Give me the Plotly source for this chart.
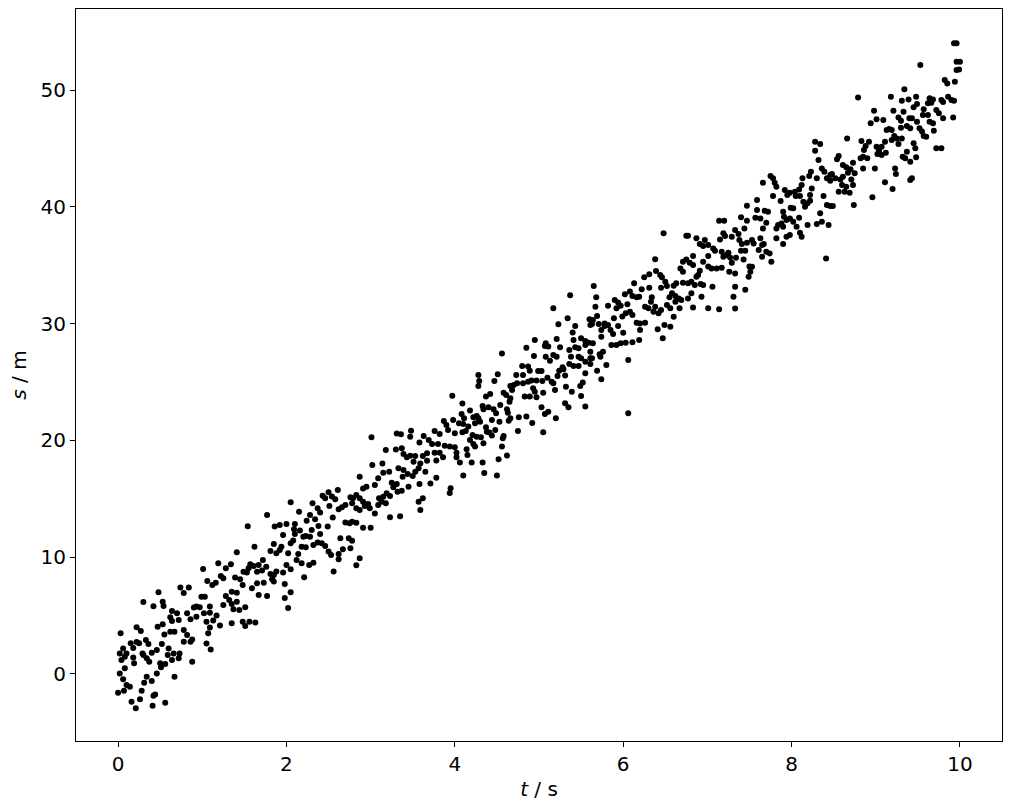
import plotly.graph_objects as go

# Points, grouped in strips along t (t in s, s in m)
strip1 = [(0.48,6.99),(0.74,7.41),(0.84,7.41),(0.78,6.93),(0.30,6.16),(0.42,5.79),(0.53,6.19),(0.54,5.82),(0.64,5.39),(0.70,5.19),(0.82,5.19),(0.90,5.70),(0.62,4.85),(0.72,4.62),(0.86,4.68),(0.22,3.99),(0.27,3.68),(0.47,4.05),(0.53,4.25),(0.64,4.53),(0.03,3.48),(0.15,2.62),(0.22,2.73),(0.33,2.91),(0.36,2.56),(0.55,3.39),(0.62,3.62),(0.67,3.62),(0.78,3.76),(0.82,3.33),(0.88,2.96),(0.06,2.19),(0.10,1.76),(0.02,1.76),(0.18,2.22),(0.25,2.62),(0.29,1.76),(0.34,1.34),(0.40,1.82),(0.46,2.05),(0.52,2.56),(0.60,2.19),(0.59,1.62),(0.66,1.76),(0.73,1.76),(0.78,2.76),(0.86,2.76),(0.04,1.19),(0.08,1.48),(0.18,1.42),(0.19,0.91),(0.30,1.62),(0.37,1.05),(0.50,0.91),(0.51,0.57),(0.56,0.85),(0.64,1.19),(0.72,1.34),(0.88,1.05),(0.02,0.05),(0.08,0.48),(0.06,-0.46),(0.34,-0.23),(0.40,-0.60),(0.31,-0.75),(0.46,0.05),(0.67,-0.23),(0.10,-0.95),(0.14,-1.09),(0.00,-1.60),(0.07,-1.43),(0.28,-1.43),(0.44,-1.75),(0.42,-1.86),(0.16,-2.37),(0.26,-2.17),(0.21,-2.94),(0.41,-2.72),(0.56,-2.46)]
strip2 = [(1.77,13.61),(1.54,12.64),(1.62,10.90),(1.41,10.42),(1.81,10.53),(1.01,8.99),(1.19,9.48),(1.28,9.05),(1.34,9.39),(1.57,9.39),(1.55,9.05),(1.61,9.25),(1.67,9.33),(1.72,9.76),(1.76,9.19),(1.06,7.96),(1.12,7.62),(1.16,7.82),(1.22,8.39),(1.25,8.19),(1.39,8.25),(1.45,8.11),(1.49,8.76),(1.53,8.68),(1.65,8.76),(1.71,8.85),(1.81,8.56),(1.48,7.62),(1.59,7.34),(1.65,7.76),(1.73,7.82),(1.67,6.76),(1.77,6.68),(0.99,6.62),(1.03,6.62),(1.28,6.68),(1.35,7.05),(1.41,6.96),(1.32,6.33),(1.25,5.91),(1.35,6.00),(1.41,6.19),(1.37,5.54),(1.44,5.48),(1.51,5.71),(0.93,5.77),(0.97,5.71),(1.09,5.77),(1.02,5.20),(1.09,5.25),(1.17,5.00),(0.93,4.91),(1.05,4.48),(1.13,4.57),(1.09,3.97),(1.21,4.14),(1.35,4.34),(1.48,4.48),(1.51,4.11),(1.56,4.48),(1.63,4.40),(1.07,3.48),(1.10,2.10),(1.05,2.60)]
strip3 = [(2.61,15.76),(2.50,15.56),(2.54,15.19),(2.43,15.25),(2.46,15.04),(2.58,14.96),(2.76,15.13),(2.05,14.70),(2.31,14.62),(2.37,14.19),(2.40,13.82),(2.51,14.39),(2.62,14.10),(2.66,14.27),(2.70,14.47),(2.15,13.90),(2.28,13.62),(2.34,13.25),(2.24,13.13),(2.55,13.39),(2.70,12.96),(2.75,12.90),(1.86,12.62),(1.92,12.76),(2.00,12.85),(2.10,12.85),(2.09,12.39),(2.16,12.28),(2.10,11.99),(2.20,11.76),(2.23,11.82),(2.28,11.76),(2.38,12.68),(2.40,11.99),(2.30,12.33),(1.96,11.90),(2.49,12.62),(2.64,11.62),(2.74,11.62),(2.05,11.19),(2.08,11.42),(2.18,10.90),(2.23,10.85),(2.32,11.05),(2.37,11.25),(2.42,11.19),(2.46,10.96),(1.85,11.13),(1.94,10.90),(1.88,10.33),(1.92,10.62),(2.02,10.33),(2.14,10.28),(2.50,10.48),(2.53,10.19),(2.62,10.28),(2.67,10.68),(2.76,10.76),(2.62,9.82),(2.12,9.76),(2.18,9.48),(2.27,9.33),(2.32,9.53),(2.00,9.33),(2.05,8.96),(1.96,8.68),(1.88,8.77),(1.85,8.48),(1.83,8.11),(2.56,8.77),(2.21,8.28),(1.98,7.71),(1.85,7.91),(2.02,5.65),(1.98,6.50),(2.05,7.00)]
strip4 = [(3.48,20.83),(3.31,20.60),(3.36,20.52),(3.47,20.32),(3.01,20.26),(3.63,20.37),(3.58,19.83),(3.69,20.03),(3.37,19.32),(3.30,19.23),(3.18,19.18),(3.39,18.83),(3.43,18.55),(3.47,18.69),(3.53,18.66),(3.62,18.66),(3.67,18.89),(3.51,18.18),(3.59,18.03),(3.67,18.26),(3.02,17.89),(3.14,18.03),(3.15,17.24),(3.22,17.32),(3.33,17.61),(3.39,17.46),(3.44,17.12),(3.50,16.95),(3.53,17.32),(3.57,17.61),(3.65,17.32),(2.87,16.89),(2.95,16.04),(2.91,15.89),(3.05,16.18),(3.09,16.75),(3.25,16.38),(3.31,16.27),(3.38,16.89),(3.58,16.27),(3.71,16.32),(3.45,16.04),(3.27,15.98),(3.37,15.69),(3.19,15.47),(3.23,15.24),(3.15,15.18),(3.10,15.04),(3.13,14.75),(3.18,14.61),(3.09,14.47),(3.32,15.61),(2.83,15.32),(2.87,15.04),(2.91,14.75),(2.97,14.55),(2.99,14.18),(2.93,14.38),(2.79,15.04),(2.78,14.61),(2.83,14.18),(2.87,14.04),(3.05,13.75),(3.62,15.04),(3.57,14.75),(3.59,14.04),(3.23,13.41),(2.78,13.04),(2.83,12.95),(2.91,12.53),(3.00,12.53),(2.83,9.30),(2.87,9.90),(2.78,11.40),(3.35,13.50)]
strip5 = [(4.56,27.45),(4.28,25.60),(4.51,25.66),(4.29,25.09),(4.28,24.66),(4.47,25.09),(4.66,24.66),(3.97,23.83),(4.37,23.75),(4.42,23.97),(4.58,24.09),(4.61,23.89),(4.66,23.60),(4.65,23.32),(4.09,23.17),(4.33,22.95),(4.34,22.66),(4.40,22.83),(4.46,22.66),(4.54,23.03),(4.62,22.66),(4.63,22.37),(4.18,22.55),(4.08,22.26),(4.11,21.89),(4.22,21.98),(4.26,22.09),(4.30,21.60),(4.28,21.89),(4.49,22.32),(4.44,21.75),(4.53,21.60),(4.66,21.89),(4.64,21.69),(3.87,21.66),(3.98,21.75),(4.05,21.46),(4.10,21.40),(3.90,21.32),(3.92,20.89),(4.16,21.18),(4.24,21.46),(4.37,21.12),(4.41,20.67),(4.44,20.41),(4.48,20.89),(4.38,20.75),(4.58,20.38),(4.57,20.18),(3.76,20.81),(3.82,20.55),(4.00,20.61),(4.09,20.69),(4.13,20.81),(4.21,20.47),(4.26,20.32),(4.31,20.27),(4.18,20.04),(4.22,19.69),(4.34,19.75),(4.24,19.47),(3.73,19.69),(3.80,19.69),(3.88,19.55),(3.94,19.47),(3.76,18.95),(3.82,18.95),(3.86,18.55),(4.02,18.95),(4.00,19.41),(4.14,19.24),(4.15,18.75),(4.02,18.55),(4.06,18.10),(4.20,18.10),(4.33,18.10),(4.52,18.38),(4.56,19.47),(3.78,18.27),(3.78,16.80),(3.94,15.50),(3.95,15.90),(4.10,17.00),(4.35,17.20),(4.50,17.00),(4.62,18.70)]
strip6 = [(5.37,32.42),(5.17,31.31),(5.34,30.45),(5.23,29.94),(5.43,29.80),(5.60,30.37),(5.61,29.88),(5.40,29.23),(5.50,28.74),(5.55,28.51),(5.59,28.37),(5.41,28.60),(5.21,28.68),(4.95,28.60),(5.08,28.31),(5.11,28.03),(5.07,28.09),(5.25,27.97),(5.43,27.97),(5.47,27.88),(5.55,28.17),(4.85,27.94),(4.94,27.23),(5.08,27.17),(5.13,26.83),(5.17,27.32),(5.21,27.17),(5.36,27.74),(5.38,27.17),(5.47,27.17),(5.50,27.03),(5.61,27.03),(5.55,26.74),(5.36,26.54),(5.41,26.37),(5.47,26.37),(5.61,26.54),(5.28,26.26),(5.24,25.97),(5.29,26.09),(4.80,26.37),(4.87,26.32),(4.89,25.97),(4.99,25.94),(5.03,25.94),(5.55,25.74),(4.73,25.60),(4.81,25.60),(5.22,25.52),(5.31,25.55),(5.10,25.37),(4.74,24.89),(4.81,24.89),(4.87,25.03),(4.91,25.12),(4.97,25.12),(5.04,25.09),(5.15,25.03),(5.17,24.89),(5.32,24.60),(5.39,24.17),(5.49,24.66),(5.52,24.95),(4.70,24.75),(4.68,24.32),(4.93,24.46),(4.95,24.17),(5.05,24.09),(5.19,24.32),(4.83,23.75),(4.89,23.75),(4.97,23.69),(5.31,23.18),(5.35,22.83),(5.03,22.83),(5.11,22.46),(5.07,22.26),(4.76,21.98),(4.85,22.04),(4.75,20.80),(4.92,21.50),(5.05,20.70),(5.20,21.90),(5.50,23.80),(5.55,22.90)]
strip7 = [(6.48,37.73),(6.38,35.51),(6.39,34.51),(6.44,34.16),(6.46,33.96),(6.50,33.59),(6.31,34.22),(6.25,33.96),(6.52,33.22),(6.45,33.08),(6.31,33.08),(6.22,32.94),(6.13,33.45),(6.08,32.74),(6.02,32.51),(6.11,32.37),(6.19,32.31),(6.16,32.25),(6.34,32.25),(6.26,31.45),(6.30,31.31),(6.33,31.88),(6.38,31.45),(6.36,31.02),(6.45,31.17),(6.42,30.88),(6.52,31.59),(6.55,32.25),(6.56,31.31),(5.65,33.22),(5.68,32.25),(5.67,31.45),(5.82,31.54),(5.90,32.02),(5.94,31.80),(5.97,31.54),(6.05,31.65),(6.08,31.02),(6.03,30.88),(5.99,30.60),(5.92,31.31),(5.89,30.45),(5.69,30.65),(5.64,30.31),(5.63,29.97),(5.71,29.97),(5.78,30.02),(5.82,29.88),(5.85,29.45),(5.78,29.80),(5.94,29.80),(6.11,30.74),(6.16,30.08),(6.20,30.02),(6.26,30.08),(6.20,29.45),(5.74,29.45),(5.88,29.11),(5.74,28.88),(6.00,29.22),(6.41,29.51),(6.49,29.88),(6.56,29.74),(6.47,28.74),(5.64,28.31),(5.86,28.17),(5.92,28.17),(5.97,28.31),(6.03,28.37),(6.11,28.40),(6.19,28.60),(5.61,27.60),(5.63,27.03),(5.72,27.37),(5.76,27.60),(5.73,27.17),(5.80,26.46),(5.69,25.97),(5.74,25.23),(6.06,26.89),(6.06,22.32)]
strip8 = [(7.47,40.10),(7.40,39.10),(7.47,38.81),(7.14,38.81),(7.20,38.81),(7.44,38.15),(7.33,38.01),(7.37,37.67),(7.19,37.73),(7.21,37.50),(7.15,37.21),(7.29,37.44),(7.38,37.16),(7.41,36.81),(7.47,36.93),(6.75,37.53),(6.77,37.53),(6.87,37.30),(6.91,36.81),(6.95,36.64),(6.97,37.16),(7.01,36.73),(7.07,36.44),(7.09,36.24),(7.17,36.16),(7.19,35.73),(7.23,35.87),(7.25,36.07),(7.27,35.67),(7.29,35.22),(7.34,35.65),(7.40,36.24),(7.45,36.24),(7.43,35.50),(7.01,35.79),(6.95,35.30),(6.83,35.79),(6.75,35.50),(6.71,35.30),(6.79,35.22),(6.83,35.02),(6.68,34.73),(6.71,34.45),(6.89,34.16),(6.91,34.53),(7.01,34.88),(7.05,34.73),(7.11,34.73),(7.17,34.79),(7.26,34.45),(7.33,34.30),(7.50,34.88),(7.51,34.45),(7.49,34.02),(6.63,33.45),(6.60,33.25),(6.71,33.50),(6.77,33.45),(6.81,33.59),(6.85,33.30),(6.92,33.39),(6.95,33.30),(6.87,34.02),(7.06,33.16),(6.58,32.59),(6.62,32.36),(6.66,32.16),(6.69,32.02),(6.77,32.16),(6.81,32.59),(6.93,32.31),(7.33,33.16),(7.31,32.31),(6.62,31.88),(6.67,31.31),(6.83,31.39),(7.01,31.31),(7.14,31.22),(6.60,30.59),(7.33,31.30),(7.45,32.90)]
strip9 = [(8.28,45.57),(8.34,45.37),(8.28,44.80),(8.32,44.00),(8.36,43.29),(8.39,43.01),(8.46,42.72),(8.42,42.44),(8.46,42.24),(8.30,42.44),(8.23,43.01),(8.21,42.63),(8.13,42.44),(8.12,41.86),(8.24,41.58),(8.09,41.49),(8.04,41.29),(8.05,40.92),(8.10,40.92),(8.22,41.01),(8.38,40.92),(8.14,40.44),(8.19,40.30),(8.22,40.52),(8.16,40.01),(8.42,40.15),(8.46,40.07),(8.34,39.44),(8.36,38.72),(8.30,38.52),(8.44,38.44),(8.19,38.44),(7.75,42.63),(7.78,42.44),(7.66,42.07),(7.80,42.07),(7.82,41.72),(7.92,41.44),(7.95,41.01),(7.98,41.21),(7.78,40.92),(7.59,40.58),(7.87,40.50),(7.99,39.92),(8.02,39.87),(7.59,39.72),(7.68,39.67),(7.72,39.58),(7.57,39.07),(7.63,39.01),(7.70,38.64),(7.90,39.58),(7.91,39.15),(7.88,38.58),(7.94,38.87),(7.98,39.01),(8.02,38.72),(8.09,39.07),(7.82,38.15),(7.84,38.44),(7.90,38.30),(8.06,38.30),(7.66,38.15),(7.53,37.16),(7.55,36.87),(7.63,37.30),(7.65,36.73),(7.67,36.81),(7.61,36.30),(7.70,36.16),(7.74,36.01),(7.82,37.30),(7.90,36.81),(7.94,37.44),(7.98,37.58),(8.10,37.78),(8.12,37.44),(7.65,35.73),(7.76,35.30),(8.41,35.58),(7.53,34.87)]
strip10 = [(9.34,50.06),(9.18,49.43),(8.79,49.37),(9.31,49.09),(9.39,49.20),(8.98,48.23),(9.21,48.23),(9.33,48.15),(9.27,47.66),(9.30,47.38),(9.40,47.58),(9.01,47.49),(9.09,47.43),(8.94,47.15),(9.16,46.66),(9.19,46.58),(9.13,46.58),(9.37,46.92),(9.30,46.78),(9.41,46.72),(9.22,46.06),(9.25,45.86),(9.31,45.86),(9.19,45.72),(9.11,45.58),(9.07,45.15),(9.27,45.38),(8.66,45.86),(8.83,45.64),(8.92,45.58),(8.88,45.21),(8.86,44.87),(9.01,45.15),(9.04,44.81),(9.02,44.52),(9.07,44.44),(9.12,44.64),(9.37,44.72),(9.35,44.15),(9.32,44.29),(9.41,43.87),(8.85,44.29),(8.82,44.15),(8.90,44.15),(8.56,44.35),(8.54,44.07),(8.61,43.58),(8.65,43.38),(8.73,43.78),(8.70,43.21),(8.85,43.29),(8.99,43.29),(8.48,42.81),(8.52,42.44),(8.67,42.92),(8.75,42.87),(8.71,42.35),(8.58,42.35),(8.61,42.58),(8.60,41.87),(8.65,41.72),(8.73,41.87),(8.56,41.30),(8.63,41.30),(8.69,41.21),(9.23,43.29),(9.24,42.81),(9.11,42.10),(9.20,41.53),(9.41,42.30),(8.96,40.81),(8.74,40.16),(8.49,40.07)]
strip11 = [(9.96,54.00),(9.93,54.00),(9.53,52.14),(9.96,52.43),(10.00,52.43),(9.99,51.77),(9.96,51.72),(9.82,50.86),(9.85,50.57),(9.94,50.72),(9.48,49.43),(9.64,49.29),(9.68,49.20),(9.78,49.14),(9.86,49.43),(9.90,49.14),(9.93,49.09),(9.80,48.98),(9.49,48.80),(9.62,48.86),(9.66,48.92),(9.45,48.52),(9.57,48.35),(9.72,48.29),(9.56,47.86),(9.62,47.86),(9.75,48.01),(9.80,47.58),(9.92,47.66),(9.43,47.58),(9.49,47.29),(9.64,47.29),(9.68,47.15),(9.52,46.72),(9.55,46.44),(9.57,46.06),(9.60,46.01),(9.69,46.52),(9.45,45.44),(9.47,45.01),(9.72,45.01),(9.78,45.01),(9.48,44.24),(9.43,42.44)]

x_ticks = [0, 2, 4, 6, 8, 10]
y_ticks = [0, 10, 20, 30, 40, 50]
x_label = "<i>t</i> / s"
y_label = "<i>s</i> / m"

strips = [strip1, strip2, strip3, strip4, strip5, strip6, strip7, strip8, strip9, strip10, strip11]
t_vals = [p[0] for st in strips for p in st]
s_vals = [p[1] for st in strips for p in st]

fig = go.Figure(go.Scatter(
    x=t_vals, y=s_vals, mode="markers",
    marker=dict(color="black", size=6, line=dict(width=0)),
    showlegend=False,
))

font = dict(family="DejaVu Sans", size=20, color="black")
axis_common = dict(
    showline=True, linecolor="black", linewidth=1, mirror=True,
    ticks="outside", ticklen=5, tickwidth=1, tickcolor="black",
    showgrid=False, zeroline=False, tickfont=font, automargin=False,
)
fig.update_xaxes(range=[-0.5, 10.5], tickvals=x_ticks,
                 title=dict(text=x_label, font=font, standoff=6), **axis_common)
fig.update_yaxes(range=[-5.74, 56.94], tickvals=y_ticks,
                 title=dict(text=y_label, font=font, standoff=8), **axis_common)
fig.update_layout(
    width=1011, height=811,
    margin=dict(l=76, r=9, t=9, b=70),
    plot_bgcolor="white", paper_bgcolor="white",
    font=font,
)
fig.write_html(
    "out.html",
    config={"displayModeBar": False},
    post_script="document.body.style.margin='0px';document.body.style.overflow='hidden';",
)
